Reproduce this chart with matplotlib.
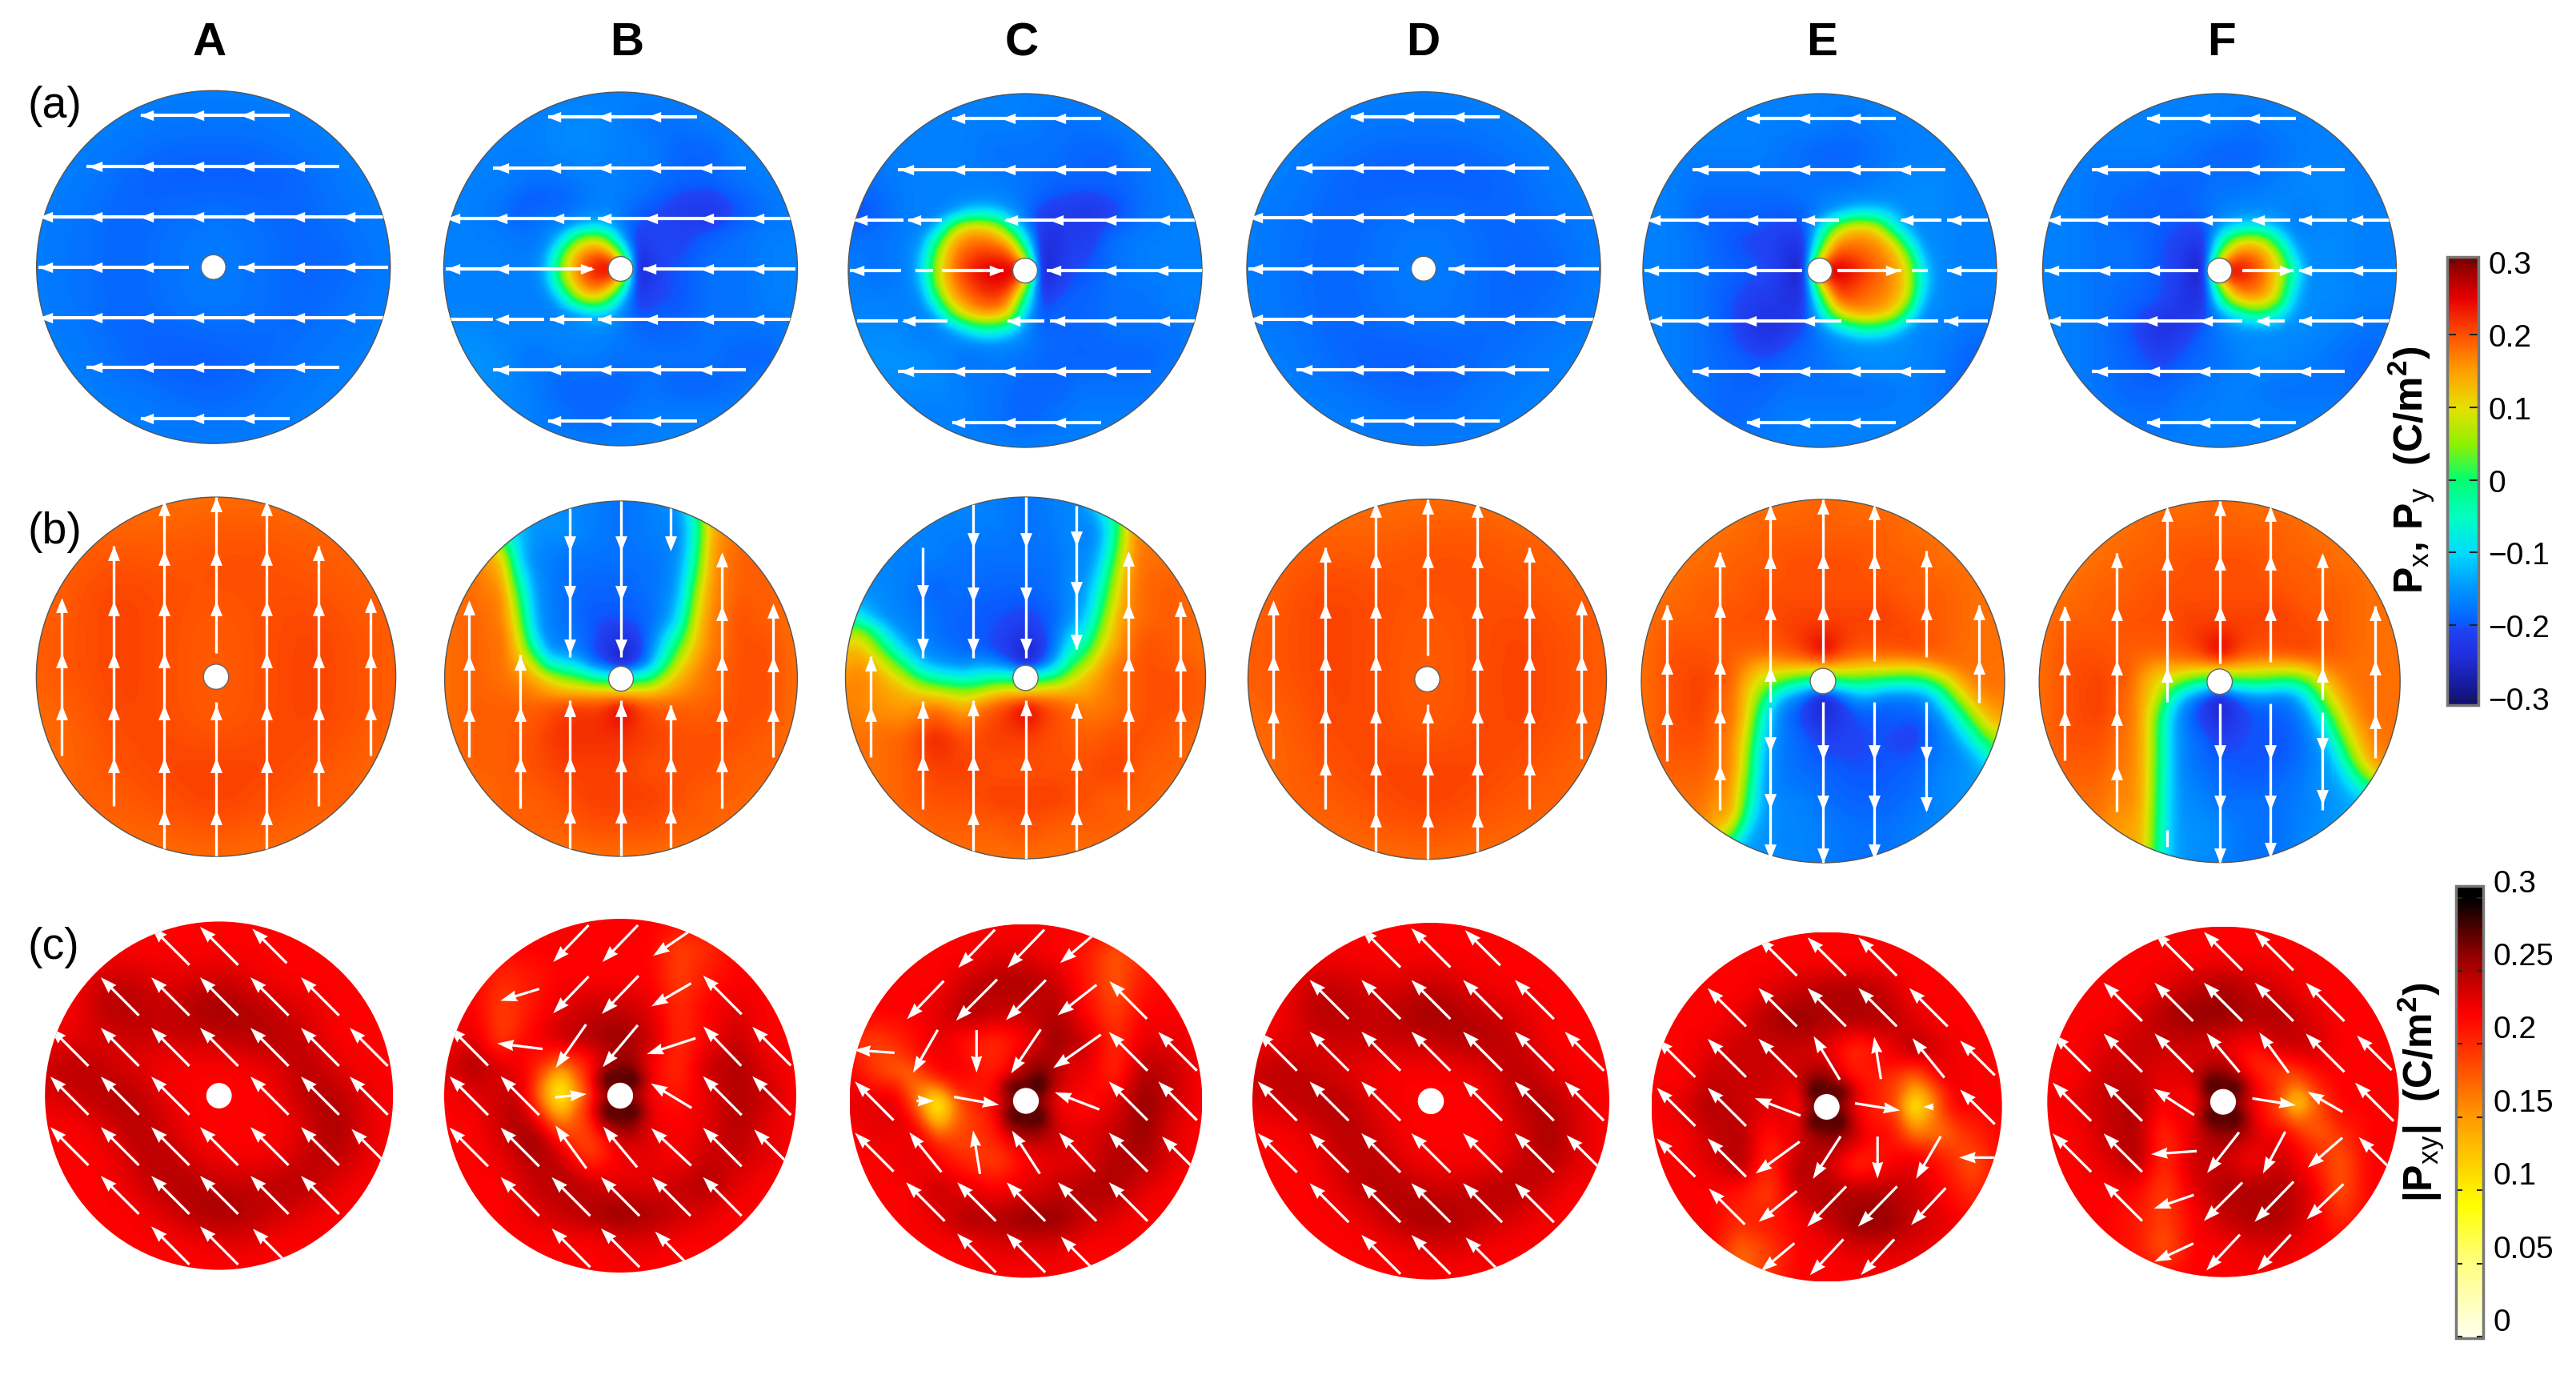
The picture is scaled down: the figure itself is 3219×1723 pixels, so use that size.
import numpy as np
import matplotlib
matplotlib.use("Agg")
import matplotlib.pyplot as plt
from matplotlib.patches import Circle
from matplotlib.colors import LinearSegmentedColormap, Normalize
from matplotlib.cm import ScalarMappable

plt.rcParams['font.family'] = ['Liberation Sans', 'DejaVu Sans']
plt.rcParams['mathtext.fontset'] = 'custom'
plt.rcParams['mathtext.rm'] = 'Liberation Sans'
plt.rcParams['mathtext.bf'] = 'Liberation Sans:bold'

W, H = 3219, 1724

# ---- data: fields in 0.01 C/m2, rows from top of disc to bottom ----
a_plain = [
    [-17,-17,-17,-17,-17,-17,-17,-17,-17],
    [-17,-17,-17,-18,-18,-18,-17,-17,-17],
    [-17,-17,-19,-20,-20,-20,-19,-17,-17],
    [-17,-18,-19,-18,-17,-18,-19,-18,-17],
    [-17,-18,-19,-18,-17,-18,-19,-19,-17],
    [-17,-18,-19,-18,-17,-18,-19,-18,-17],
    [-17,-17,-19,-20,-20,-19,-18,-17,-17],
    [-17,-17,-17,-18,-19,-18,-17,-17,-17],
    [-17,-17,-17,-17,-17,-17,-17,-17,-17]]
a_B = [
    [-17,-17,-17,-17,-17,-17,-17,-17,-17,-17,-17,-17,-17],
    [-17,-17,-17,-17,-16,-16,-17,-18,-18,-17,-17,-17,-17],
    [-17,-17,-17,-17,-16,-16,-17,-17,-19,-19,-17,-17,-17],
    [-17,-17,-17,-18,-18,-17,-17,-18,-19,-19,-18,-17,-17],
    [-17,-17,-18,-21,-20,-17,-17,-19,-22,-23,-20,-18,-17],
    [-17,-17,-17,-18,-17,-17,-17,-21,-21,-19,-18,-17,-17],
    [-17,-17,-17,-17,-17,-17,-17,-21,-20,-18,-18,-17,-17],
    [-17,-17,-17,-17,-17,-17,-17,-21,-20,-18,-18,-17,-17],
    [-16,-16,-17,-16,-16,-16,-17,-19,-19,-18,-18,-18,-17],
    [-15,-15,-16,-18,-17,-17,-18,-18,-18,-18,-19,-19,-17],
    [-15,-15,-16,-17,-19,-19,-19,-18,-19,-19,-18,-17,-17],
    [-16,-16,-16,-17,-18,-19,-18,-17,-17,-17,-17,-17,-17],
    [-17,-17,-17,-17,-17,-17,-17,-17,-17,-17,-17,-17,-17]]
a_C = [
    [-17,-17,-17,-17,-17,-17,-17,-17,-17,-17,-17,-17,-17],
    [-17,-17,-17,-17,-17,-17,-17,-18,-18,-17,-17,-17,-17],
    [-17,-17,-17,-17,-17,-18,-18,-18,-19,-19,-17,-17,-17],
    [-19,-18,-17,-17,-17,-17,-18,-19,-19,-19,-18,-17,-17],
    [-21,-19,-17,-17,-17,-17,-17,-19,-23,-21,-18,-17,-17],
    [-18,-18,-17,-17,-17,-17,-17,-21,-22,-18,-17,-17,-17],
    [-17,-18,-17,-17,-17,-17,-17,-21,-20,-18,-17,-17,-17],
    [-17,-17,-17,-17,-17,-17,-17,-20,-19,-18,-18,-17,-17],
    [-16,-16,-16,-17,-17,-17,-17,-18,-19,-18,-18,-18,-17],
    [-15,-15,-15,-16,-18,-17,-18,-19,-19,-19,-19,-18,-17],
    [-16,-16,-16,-16,-17,-18,-19,-19,-18,-18,-18,-17,-17],
    [-17,-17,-17,-17,-17,-18,-19,-18,-17,-17,-17,-17,-17],
    [-17,-17,-17,-17,-17,-17,-17,-17,-17,-17,-17,-17,-17]]
a_E = [
    [-17,-17,-17,-17,-17,-17,-17,-17,-17,-17,-17,-17,-17],
    [-17,-17,-17,-17,-17,-17,-17,-18,-17,-17,-17,-17,-17],
    [-17,-17,-17,-17,-17,-18,-19,-19,-18,-17,-17,-17,-17],
    [-17,-17,-18,-18,-18,-18,-18,-18,-17,-16,-16,-17,-17],
    [-17,-17,-19,-19,-19,-19,-17,-16,-16,-16,-16,-17,-17],
    [-17,-17,-18,-20,-21,-21,-17,-16,-16,-16,-16,-17,-17],
    [-17,-17,-18,-19,-20,-21,-17,-16,-16,-16,-16,-17,-17],
    [-17,-17,-18,-20,-22,-22,-17,-16,-16,-16,-16,-17,-17],
    [-17,-17,-18,-20,-24,-21,-17,-16,-16,-16,-16,-18,-18],
    [-17,-17,-18,-19,-20,-19,-18,-16,-15,-16,-17,-19,-19],
    [-17,-17,-18,-19,-19,-18,-18,-18,-18,-17,-18,-19,-18],
    [-17,-17,-18,-19,-18,-17,-17,-17,-17,-17,-17,-17,-17],
    [-17,-17,-17,-17,-17,-17,-17,-17,-17,-17,-17,-17,-17]]
a_F = [
    [-17,-17,-17,-17,-17,-17,-17,-17,-17,-17,-17,-17,-17],
    [-17,-17,-17,-17,-17,-17,-17,-18,-17,-17,-17,-17,-17],
    [-17,-17,-17,-17,-17,-18,-19,-19,-18,-17,-17,-17,-17],
    [-17,-17,-18,-18,-19,-19,-18,-18,-17,-16,-16,-17,-17],
    [-17,-17,-18,-19,-19,-19,-17,-16,-16,-17,-16,-17,-17],
    [-17,-17,-18,-18,-20,-21,-17,-16,-16,-16,-16,-17,-17],
    [-17,-17,-18,-18,-20,-21,-17,-16,-16,-16,-16,-17,-17],
    [-17,-17,-18,-19,-20,-22,-17,-16,-16,-16,-16,-17,-17],
    [-17,-17,-18,-20,-24,-21,-17,-16,-16,-16,-17,-18,-18],
    [-17,-17,-18,-19,-21,-19,-18,-16,-16,-17,-18,-19,-18],
    [-17,-17,-18,-19,-19,-18,-17,-17,-18,-18,-18,-19,-18],
    [-17,-17,-17,-18,-18,-17,-17,-17,-17,-17,-17,-17,-17],
    [-17,-17,-17,-17,-17,-17,-17,-17,-17,-17,-17,-17,-17]]

# finer grids (step 1/12 of the radius) for the domains next to the hole
a_B_core = [
    [-17,-17,-17,-17,-17,-16,-18,-20,-21,-21],
    [-17,-17,-17,-15,-12,-13,-17,-20,-21,-20],
    [-17,-17,-10,  5, 10,  6,-13,-22,-21,-20],
    [-17,-14,  3, 15, 19, 20,  6,-24,-22,-20],
    [-17,-12,  6, 17, 23, 26, 27,-27,-23,-20],
    [-17,-14,  3, 15, 20, 20,  8,-25,-22,-20],
    [-17,-17,-10,  6, 12,  7,-11,-22,-21,-20],
    [-17,-17,-17,-15,-11,-12,-16,-20,-20,-19],
    [-17,-17,-17,-17,-16,-16,-18,-19,-19,-19]]
a_C_core = [
    [-17,-17,-17,-16,-16,-16,-16,-17,-18,-20,-21,-21],
    [-17,-17,-17,-16,-12,-10,-11,-15,-18,-21,-22,-22],
    [-17,-17,-14,  3, 12, 12,  9, -3,-16,-22,-23,-22],
    [-17,-15, -1, 14, 17, 18, 17, 13, -6,-24,-24,-22],
    [-17,-12,  6, 16, 20, 22, 22, 21,  7,-25,-24,-21],
    [-17,-11,  8, 17, 22, 25, 26, 26, 27,-27,-24,-20],
    [-17,-13,  6, 16, 20, 23, 24, 23, 10,-25,-22,-20],
    [-17,-16, -2, 13, 17, 20, 21, 17, -3,-22,-20,-19],
    [-17,-17,-14,  2, 12, 15, 15, 10,-12,-20,-19,-19],
    [-17,-17,-17,-15,-10, -4, -4, -9,-16,-19,-19,-19],
    [-17,-17,-17,-16,-16,-16,-16,-16,-17,-18,-19,-19]]
a_E_core = [
    [-19,-18,-18,-17,-16,-16,-16,-16,-16,-16,-16,-16],
    [-20,-19,-19,-17,-15,-12,-10,-11,-13,-16,-16,-16],
    [-21,-21,-20,-11,  3, 11, 12,  8, -6,-15,-16,-16],
    [-22,-23,-23, -4, 15, 17, 17, 16, 10, -6,-16,-16],
    [-22,-24,-25,  8, 21, 21, 19, 17, 15,  6,-13,-16],
    [-21,-25,-27, 27, 27, 25, 22, 19, 16, 10, -9,-16],
    [-22,-24,-25,  9, 23, 22, 20, 18, 16, 11, -9,-16],
    [-23,-24,-23, -4, 18, 20, 18, 17, 15,  8,-13,-16],
    [-24,-23,-21,-12,  5, 13, 15, 14, 10, -4,-16,-17],
    [-25,-22,-20,-17,-13, -8, -4, -5,-10,-15,-17,-17],
    [-22,-20,-19,-18,-16,-16,-16,-16,-16,-16,-17,-18]]
a_F_core = [
    [-19,-19,-18,-17,-16,-16,-16,-16,-17,-17],
    [-20,-21,-20,-15,-11, -9,-10,-14,-17,-17],
    [-21,-22,-23, -6,  8, 12,  9, -3,-15,-16],
    [-21,-24,-25,  6, 19, 19, 16,  8,-10,-16],
    [-21,-25,-27, 27, 26, 23, 18, 11, -3,-16],
    [-22,-24,-25,  7, 20, 20, 17, 10, -8,-16],
    [-23,-24,-23, -5, 11, 15, 14,  6,-12,-16],
    [-24,-23,-21,-16,-10, -3, -2, -8,-15,-16],
    [-24,-21,-19,-17,-15,-15,-15,-15,-16,-16]]

b_plain = [
    [18,18,18,18,18,18,18,18,18],
    [18,19,19,19,20,20,19,19,18],
    [18,20,21,20,20,20,20,19,19],
    [19,20,21,20,19,20,21,20,19],
    [19,20,21,20,19,20,21,20,19],
    [18,19,21,20,19,20,21,20,19],
    [18,19,20,21,21,21,20,19,18],
    [18,19,19,20,21,20,19,19,18],
    [18,18,18,18,18,18,18,18,18]]
b_B = [
    [18,18,-8,-15,-16,-17,-18,-17,-15, 14,18,18,18],
    [18,18,-8,-15,-15,-17,-18,-17,-13, 12,18,18,18],
    [18,18, 4,-14,-18,-18,-18,-18,-12, 14,19,19,18],
    [18,18,14,-10,-18,-19,-19,-18, -9, 15,19,19,18],
    [18,19,16, -3,-17,-20,-20,-19, -5, 16,20,19,18],
    [18,19,17,  5,-14,-20,-26,-18,  2, 17,20,20,18],
    [18,19,18, 15,  8, -2, -5,  3, 14, 18,20,20,18],
    [18,19,19, 19, 21, 22, 26, 21, 19, 19,20,20,18],
    [18,19,19, 20, 22, 22, 22, 21, 20, 20,20,19,18],
    [18,19,19, 20, 21, 21, 21, 20, 20, 20,19,19,18],
    [18,18,19, 19, 20, 21, 21, 21, 20, 19,19,18,18],
    [18,18,19, 19, 19, 20, 20, 20, 19, 19,18,18,18],
    [18,18,18, 18, 18, 18, 18, 18, 18, 18,18,18,18]]
b_C = [
    [-16,-16,-16,-16,-16,-17,-18,-17,-15,  4,18,18,18],
    [-16,-16,-16,-17,-17,-17,-18,-17,-13,  4,18,18,18],
    [-16,-16,-17,-17,-18,-18,-18,-18,-12,  8,18,18,18],
    [-15,-16,-17,-19,-18,-19,-19,-18,-10, 14,19,19,18],
    [ -8,-12,-17,-19,-19,-20,-21,-19, -7, 16,19,19,18],
    [  8,  3,-12,-15,-18,-21,-25,-19,  0, 17,20,19,18],
    [ 14, 13,  8, -3, -8, -4, -4,  3, 13, 18,20,20,19],
    [ 17, 16, 15, 18, 14, 20, 26, 20, 17, 18,20,20,19],
    [ 18, 18, 19, 23, 20, 21, 21, 20, 19, 20,20,19,18],
    [ 18, 18, 19, 21, 21, 20, 20, 20, 20, 21,19,19,18],
    [ 18, 18, 19, 20, 20, 21, 21, 21, 20, 19,19,18,18],
    [ 18, 18, 18, 19, 19, 19, 20, 19, 19, 19,18,18,18],
    [ 18, 18, 18, 18, 18, 18, 18, 18, 18, 18,18,18,18]]
b_E = [
    [18,18,18,18,18,18,19,18,18,18,18,18,18],
    [18,18,18,18,19,19,19,19,19,18,18,18,18],
    [18,18,18,19,19,20,20,20,19,19,18,18,18],
    [18,18,19,19,20,20,20,20,20,19,19,18,18],
    [18,19,19,20,20,21,21,21,21,20,19,18,18],
    [18,20,20,19,19,21,25,21,20,21,19,18,18],
    [18,20,21,19, 8,-1, 0, 0,-1,-2, 6,15,17],
    [18,20,21,17,-8,-19,-25,-21,-20,-19,-10, 2,15],
    [18,20,20,16,-12,-18,-21,-21,-20,-22,-17,-8, 3],
    [18,19,19,15,-10,-18,-19,-20,-20,-19,-16,-14,-12],
    [18,18,18, 8,-14,-16,-18,-19,-19,-18,-16,-15,-15],
    [18,18,16, 0,-14,-16,-17,-18,-18,-17,-16,-16,-16],
    [18,18,14,-12,-15,-16,-17,-18,-18,-17,-16,-16,-16]]
b_F = [
    [18,18,18,18,18,18,19,18,18,18,18,18,18],
    [18,18,18,18,19,19,19,19,19,18,18,18,18],
    [18,18,18,19,19,20,20,20,19,19,18,18,18],
    [18,18,19,19,20,20,20,20,20,19,19,18,18],
    [18,19,19,20,20,21,21,21,21,20,19,18,18],
    [18,20,20,19,19,21,25,21,20,21,19,18,18],
    [18,20,21,19,10, 0, 0, 0, 1,10,17,19,18],
    [18,20,21,18, 2,-17,-25,-20,-19,-10,10,18,18],
    [18,20,20,17,-3,-17,-21,-20,-20,-18, 0,16,18],
    [18,19,19,16,-6,-17,-19,-20,-19,-18,-11, 0,12],
    [18,18,18,15,-6,-15,-18,-18,-18,-17,-15,-12,-10],
    [18,18,17,13,-6,-14,-16,-18,-18,-16,-14,-13,-13],
    [18,18,16,12,-10,-15,-17,-18,-18,-16,-15,-14,-14]]

b_B_core = [
    [-18,-19,-22,-24,-22,-18, -8],
    [-18,-20,-23,-26,-23,-17, -4],
    [-15,-18,-21,-27,-22,-14, -1],
    [  4, -2, -4, -4, -3, -1,  8],
    [ 17, 15, 15, 14, 14, 14, 16],
    [ 22, 21, 22, 26, 22, 20, 19],
    [ 22, 22, 22, 24, 21, 20, 20]]
b_C_core = [
    [-20,-20,-22,-24,-21,-17, -8],
    [-19,-21,-23,-26,-23,-17, -2],
    [-14,-17,-20,-27,-21,-13,  1],
    [ -4, -3, -3, -4, -2,  1,  8],
    [ 10, 13, 14, 14, 15, 15, 16],
    [ 20, 20, 22, 26, 22, 20, 19],
    [ 21, 21, 22, 24, 21, 20, 20]]
b_E_core = [
    [ 20, 21, 22, 24, 22, 20, 20],
    [ 19, 20, 22, 26, 22, 20, 19],
    [ 16, 15, 15, 16, 15, 14, 13],
    [  6,  0, -3, -3, -1,  1,  0],
    [-12,-15,-20,-27,-20,-15,-12],
    [-16,-19,-22,-26,-23,-20,-18],
    [-15,-19,-21,-24,-22,-20,-20]]
b_F_core = [
    [ 20, 21, 22, 24, 22, 20, 20],
    [ 19, 20, 22, 26, 22, 20, 19],
    [ 17, 15, 15, 16, 15, 14, 13],
    [  8,  1, -3, -3, -1,  0,  0],
    [-10,-15,-20,-27,-20,-17,-18],
    [-14,-19,-22,-26,-23,-20,-20],
    [-14,-19,-21,-24,-22,-20,-20]]

# finer grids along the domain walls of row (b)
b_B_left = [
    [18,  8,-14,-16,-17,-17],
    [18, 12,-10,-16,-17,-17],
    [18, 14, -5,-15,-17,-18],
    [18, 16,  0,-14,-17,-18],
    [18, 17,  4,-13,-17,-18],
    [18, 17,  7,-12,-17,-19],
    [18, 18, 10, -9,-17,-19],
    [18, 18, 12, -2,-15,-19],
    [18, 18, 14,  9, -6,-15],
    [18, 18, 17, 15, 10,  4]]
b_B_right = [
    [-17,-17,-16, -8, 12, 18],
    [-17,-17,-16, -6, 13, 18],
    [-17,-17,-16, -5, 14, 18],
    [-18,-17,-15, -3, 15, 18],
    [-18,-17,-14,  0, 15, 18],
    [-18,-17,-13,  4, 16, 18],
    [-18,-16,-11,  7, 16, 18],
    [-18,-16, -8,  9, 17, 18],
    [-17,-14, -2, 11, 17, 18],
    [-17,-10,  4, 13, 17, 18],
    [-12, -2, 10, 15, 18, 19],
    [  2, 10, 14, 17, 18, 19]]
b_C_right = [
    [-17,-17,-15, -6, 14, 18],
    [-17,-17,-14, -2, 15, 18],
    [-17,-17,-14,  0, 15, 18],
    [-17,-16,-12,  3, 16, 18],
    [-17,-16, -9,  7, 16, 18],
    [-17,-15, -5,  9, 17, 18],
    [-17,-14, -2, 11, 17, 18],
    [-17,-12,  2, 13, 17, 18],
    [-16, -8,  6, 14, 18, 19],
    [-13, -2, 10, 15, 18, 20],
    [ -4,  6, 14, 17, 19, 20],
    [  8, 13, 16, 18, 19, 20]]
b_C_left = [
    [-14,-15,-16,-17,-17,-18,-18,-18,-19,-20],
    [  2, -8,-14,-16,-17,-17,-18,-19,-19,-20],
    [ 12,  8, -2,-12,-16,-17,-18,-19,-19,-20],
    [ 16, 13,  6, -4,-12,-16,-17,-18,-19,-20],
    [ 17, 16, 12,  6, -3,-12,-15,-16,-17,-18],
    [ 18, 17, 15, 12,  8,  0, -4, -6, -7, -5],
    [ 18, 18, 17, 16, 15, 14, 13, 12, 10, 10]]
b_E_left = [
    [19,18,15,  6,-12,-18],
    [18,18,12, -4,-16,-19],
    [18,18,10, -7,-17,-19],
    [18,17, 8,-10,-17,-18],
    [18,17, 6,-12,-17,-18],
    [18,17, 5,-13,-17,-18],
    [18,16, 2,-14,-17,-18],
    [18,16, 0,-14,-16,-17],
    [18,14,-5,-15,-16,-17],
    [17, 6,-12,-15,-16,-17],
    [10,-10,-15,-15,-16,-17],
    [ 0,-14,-15,-15,-16,-17]]
b_E_right = [
    [ 20, 19, 19, 20, 19, 19, 18, 18, 18, 18],
    [ 15, 14, 13, 13, 15, 17, 18, 18, 18, 18],
    [  0, -2, -3, -3,  0,  7, 14, 17, 18, 18],
    [-16,-17,-17,-17,-14, -4,  8, 15, 17, 18],
    [-20,-20,-19,-19,-17,-12, -2,  9, 15, 17],
    [-20,-20,-20,-21,-19,-16, -9,  1, 11, 16],
    [-20,-20,-21,-21,-19,-17,-14, -7,  2, 12],
    [-20,-20,-20,-20,-18,-17,-16,-13, -6,  5],
    [-20,-20,-19,-19,-18,-16,-16,-15,-13, -5]]
b_F_left = [
    [18,16,10, -6,-16],
    [18,14, 2,-12,-18],
    [18,14, 0,-14,-18],
    [18,14, 0,-14,-18],
    [18,14, 0,-14,-18],
    [18,14,-1,-14,-18],
    [18,14,-1,-14,-17],
    [18,14,-2,-14,-17],
    [17,13,-2,-14,-17],
    [17,13,-3,-14,-16],
    [17,13,-3,-14,-16],
    [17,12,-5,-14,-16]]
b_F_right = [
    [ 21, 20, 21, 20, 19, 19, 18, 18, 18, 18],
    [ 15, 13, 13, 15, 17, 18, 18, 18, 18, 18],
    [  0, -2, -2,  3, 12, 16, 18, 18, 18, 18],
    [-18,-18,-15, -7,  6, 14, 17, 18, 18, 18],
    [-20,-19,-18,-13, -2, 10, 16, 18, 18, 18],
    [-20,-20,-19,-16, -8,  5, 14, 17, 18, 18],
    [-20,-20,-19,-17,-13, -1, 11, 16, 18, 18],
    [-20,-20,-19,-17,-15, -7,  7, 15, 17, 18],
    [-20,-19,-18,-17,-15,-12, -1, 10, 15, 17],
    [-19,-18,-18,-16,-15,-14, -9, -3,  6, 14],
    [-18,-18,-17,-16,-15,-14,-13,-11, -8, -5]]

c_plain = [
    [22,22,22,22,22,22,22,22,22,22,22,22,22],
    [22,22,22,22,22,22,22,22,22,22,22,22,22],
    [22,22,24,24,23,23,24,23,22,22,22,22,22],
    [22,22,25,25,24,25,26,25,24,23,22,22,22],
    [22,23,23,24,24,24,24,25,25,24,22,22,22],
    [24,25,24,23,22,22,22,22,23,25,23,22,22],
    [23,24,25,25,23,22,22,22,22,25,25,23,22],
    [22,22,23,25,24,22,22,22,22,23,26,23,22],
    [22,22,22,24,25,23,22,22,22,24,25,23,22],
    [22,22,22,23,25,25,24,24,25,25,23,22,22],
    [22,22,22,22,23,25,26,25,24,23,22,22,22],
    [22,22,22,22,22,22,23,23,22,22,22,22,22],
    [22,22,22,22,22,22,22,22,22,22,22,22,22]]
c_B = [
    [22,22,22,22,22,22,22,22,22,22,22,22,22],
    [22,22,22,22,22,22,22,22,19,20,22,22,22],
    [22,22,20,21,22,22,22,22,19,21,22,22,22],
    [22,22,19,21,23,24,24,23,20,22,23,22,22],
    [22,23,19,22,24,25,26,24,20,22,24,22,22],
    [23,25,23,21,20,22,25,24,20,24,25,23,22],
    [22,23,24,22,20,22,25,23,21,23,25,24,22],
    [22,22,24,25,22,22,25,25,22,23,25,23,22],
    [22,22,23,25,24,19,22,23,22,24,24,23,22],
    [22,22,22,24,25,24,23,23,24,25,23,22,22],
    [22,22,22,23,24,25,26,25,24,23,22,22,22],
    [22,22,22,22,22,22,23,23,22,22,22,22,22],
    [22,22,22,22,22,22,22,22,22,22,22,22,22]]
c_C = [
    [22,22,22,22,22,22,22,22,22,22,22,22,22],
    [22,22,22,22,22,23,23,22,21,18,20,22,22],
    [22,22,22,22,24,25,25,24,21,18,21,22,22],
    [22,22,22,23,25,24,24,25,22,19,22,22,22],
    [20,19,21,23,21,20,22,26,24,20,23,23,22],
    [22,19,19,22,21,21,24,26,23,20,25,24,22],
    [23,23,21,20,21,22,24,24,21,23,26,24,22],
    [22,23,22,21,20,22,24,24,23,24,26,23,22],
    [22,22,23,22,20,19,22,23,23,25,25,23,22],
    [22,22,22,24,23,22,23,24,25,25,23,22,22],
    [22,22,22,23,25,25,26,26,24,23,22,22,22],
    [22,22,22,22,22,23,23,23,22,22,22,22,22],
    [22,22,22,22,22,22,22,22,22,22,22,22,22]]
c_E = [
    [22,22,22,22,22,22,22,22,22,22,22,22,22],
    [22,22,22,22,22,22,22,22,22,22,22,22,22],
    [22,22,22,22,23,24,25,25,24,22,22,22,22],
    [22,22,22,23,25,26,25,25,25,23,22,22,22],
    [22,22,23,24,24,24,23,20,22,25,23,22,22],
    [22,22,24,24,24,23,24,21,22,21,23,22,22],
    [22,23,25,24,23,22,24,22,21,20,21,22,22],
    [22,22,24,25,21,24,25,24,21,20,20,20,22],
    [22,22,23,25,20,25,24,20,22,23,21,18,22],
    [22,22,22,21,19,24,25,25,25,24,22,20,22],
    [22,22,22,20,21,22,24,26,26,24,23,22,22],
    [22,22,22,17,19,22,22,23,23,23,22,22,22],
    [22,22,22,17,20,22,22,22,22,22,22,22,22]]
c_F = [
    [22,22,22,22,22,22,22,22,22,22,22,22,22],
    [22,22,22,22,22,22,22,22,22,22,22,22,22],
    [22,22,22,22,23,24,25,24,23,22,22,22,22],
    [22,22,22,23,25,26,26,25,25,23,22,22,22],
    [22,22,23,24,24,24,23,22,24,24,22,22,22],
    [22,22,24,24,23,23,24,20,21,22,22,22,22],
    [22,23,24,25,22,22,24,22,21,21,22,22,22],
    [22,22,24,25,20,24,25,24,22,20,20,22,22],
    [22,22,23,25,20,24,24,22,24,21,18,22,22],
    [22,22,22,22,19,23,25,25,25,23,18,22,22],
    [22,22,22,21,19,22,24,25,25,23,20,22,22],
    [22,22,22,21,18,22,22,23,23,22,22,22,22],
    [22,22,22,22,22,22,22,22,22,22,22,22,22]]

c_B_core = [
    [24,22,21,20,21,22,24,25,25,23,21],
    [23,21,19,16,19,21,25,27,26,22,20],
    [24,21,15,10,17,21,30,27,30,23,20],
    [25,20,14, 8,15,20,25,25,25,22,21],
    [26,22,17,12,18,21,30,27,30,23,21],
    [26,24,21,17,18,20,25,27,26,23,21],
    [25,26,24,21,19,19,21,24,24,23,22],
    [24,25,25,23,20,19,21,23,23,23,22]]
c_C_core = [
    [18,20,22,22,23,22,20,20,22,25,26,24,21],
    [17,17,20,22,22,22,21,21,22,26,27,25,21],
    [22,18,16,17,21,21,21,22,30,27,30,24,22],
    [24,20,14, 8,16,20,21,22,26,25,26,22,22],
    [24,22,17,10,16,19,20,22,30,27,30,23,22],
    [23,23,21,16,18,19,20,21,25,27,26,24,22],
    [22,23,23,20,18,18,19,20,22,24,24,24,23]]
c_E_core = [
    [23,24,24,24,21,20,21,22,21,20,22,22,22],
    [23,24,26,27,23,21,21,20,19,17,20,23,23],
    [23,22,30,27,30,23,21,20,18,13,16,20,23],
    [24,21,26,25,26,22,21,20,17, 8,14,20,23],
    [24,22,30,27,30,23,21,21,19,13,16,18,20],
    [22,23,25,27,26,24,22,22,20,17,17,17,18],
    [20,23,25,25,24,22,20,21,22,21,20,19,18]]
c_F_core = [
    [23,23,24,24,22,20,20,21,22,23,22,22],
    [23,24,26,27,24,21,20,19,19,21,22,22],
    [23,22,30,27,30,23,21,19,16,19,21,22],
    [24,21,26,25,26,22,21,18,10,16,20,22],
    [24,22,30,27,30,23,21,19,16,18,19,22],
    [22,23,25,27,26,24,22,22,20,18,18,20],
    [20,23,25,25,24,23,23,23,22,20,18,19]]

# ---- data: streamlines of row (a), one entry per row of disc ----
row_y = [.86, .57, .286, 0, -.286, -.57, -.86]
a_segs = [[(-.41,.43)], [(-.72,.71)], [(-.97,.96)], [(-.99,-.14),(.14,.99)],
          [(-.97,.96)], [(-.72,.71)], [(-.41,.43)]]
a_left = [[-.38,-.095,.19], [-.67,-.38,-.095,.19,.476],
          [-.95,-.67,-.38,-.095,.19,.476,.76], [-.95,-.67,-.38,.19,.476,.76],
          [-.95,-.67,-.38,-.095,.19,.476,.76], [-.67,-.38,-.095,.19,.476],
          [-.38,-.095,.19]]
a_right = [[], [], [], [], [], [], []]

a_B_segs = a_segs[:2] + [[(-.97,-.17),(-.13,.97)], [(-.99,-.16),(.13,.99)],
                         [(-.97,-.72),(-.69,-.43),(-.4,-.16),(-.13,.97)]] + a_segs[5:]
a_B_left = a_left[:2] + [[-.95,-.68,-.36,-.095,.17,.487,.77], [-.95,-.67,.16,.487,.77],
                         [-.67,-.36,-.095,.17,.487,.77]] + a_left[5:]
a_B_right = [[], [], [], [-.19], [], [], []]

a_C_segs = a_segs[:2] + [[(-.97,-.69),(-.66,-.47),(-.11,.96)],
                         [(-.99,-.70),(-.62,-.52),(-.47,-.12),(.12,1)],
                         [(-.95,-.72),(-.69,-.44),(-.10,.11),(.14,.96)]] + a_segs[5:]
a_C_left = a_left[:2] + [[-.93,-.63,-.08,.175,.476,.78], [-.95,.165,.476,.768],
                         [-.66,-.07,.184,.476,.78]] + a_left[5:]
a_C_right = [[], [], [], [-.165], [], [], []]

a_E_segs = a_segs[:2] + [[(-.96,-.13),(-.10,.11),(.46,.69),(.72,.95)],
                         [(-.99,-.10),(.10,.46),(.52,.61),(.72,1)],
                         [(-.95,.12),(.49,.67),(.70,.95)]] + a_segs[5:]
a_E_left = a_left[:2] + [[-.94,-.67,-.39,-.07,.49,.76], [-.95,-.67,-.40,.76],
                         [-.93,-.67,-.40,-.07,.74]] + a_left[5:]
a_E_right = [[], [], [], [.41], [], [], []]

a_F_segs = a_segs[:2] + [[(-.96,.13),(.19,.40),(.45,.72),(.75,.96)],
                         [(-.99,-.12),(.13,.42),(.45,1)],
                         [(-.96,.13),(.22,.37),(.45,.96)]] + a_segs[5:]
a_F_left = a_left[:2] + [[-.94,-.67,-.38,-.08,.215,.48,.77], [-.95,-.66,-.38,.48,.77],
                         [-.94,-.67,-.39,-.08,.24,.48,.77]] + a_left[5:]
a_F_right = [[], [], [], [.38], [], [], []]

# ---- data: streamlines of row (b), one entry per column of disc ----
col_x = [-.86, -.57, -.29, 0, .28, .57, .86]
b_segs = [[(-.44,.42)], [(-.72,.73)], [(-.97,.97)], [(-1,-.14),(.13,1)],
          [(-.97,.97)], [(-.72,.73)], [(-.44,.42)]]
b_up = [[.40,.09,-.2], [.69,.38,.09,-.2,-.49], [.94,.66,.38,.09,-.2,-.49,-.78],
        [.96,.66,.38,-.2,-.49,-.78], [.94,.66,.38,.09,-.2,-.49,-.78],
        [.69,.38,.09,-.2,-.49], [.40,.09,-.2]]
b_down = [[], [], [], [], [], [], []]

b_B_segs = [[(-.44,.42)], [(-.73,.135)], [(-.96,-.12),(.12,.96)], [(-1,-.12),(.12,1)],
            [(-.95,-.15),(.76,.96)], [(-.73,.7)], [(-.44,.41)]]
b_B_up = [[.40,.09,-.2], [.09,-.2,-.48], [-.17,-.48,-.77], [-.17,-.48,-.77],
          [-.19,-.48,-.77], [.67,.37,.09,-.2,-.48], [.385,.08,-.2]]
b_B_down = [[], [], [.76,.48,.18], [.76,.48,.18], [.76], [], []]

b_C_segs = [[(-.44,.12)], [(-.725,-.13),(.11,.72)], [(-.96,-.125),(.11,.96)], [(-1,-.125),(.11,1)],
            [(-.95,-.14),(.16,.95)], [(-.73,.69)], [(-.44,.42)]]
b_C_up = [[.08,-.2], [-.18,-.47], [-.17,-.47,-.77], [-.17,-.47,-.77], [-.18,-.47,-.77],
          [.66,.37,.08,-.2,-.48], [.38,.08,-.2]]
b_C_down = [[], [.475,.175], [.76,.46,.175], [.76,.46,.175], [.77,.49,.2], [], []]

b_E_segs = [[(-.44,.42)], [(-.71,.71)], [(-.115,.96),(-.956,-.146)], [(.1,1),(-1,-.115)],
            [(.11,.96),(-.956,-.115)], [(.13,.72),(-.71,-.115)], [(-.12,.42)]]
b_E_up = [[.38,.08,-.2], [.67,.39,.08,-.19,-.5], [.93,.66,.38,.04], [.96,.66,.38],
          [.93,.66,.38], [.67,.38], [.38,.08]]
b_E_down = [[], [], [-.35,-.66,-.94], [-.39,-.67,-.96], [-.39,-.67,-.94], [-.4,-.68], []]

b_F_segs = [[(-.435,.415)], [(-.72,.71)], [(-.11,.96),(-.915,-.82)], [(.1,1),(-1,-.12)],
            [(.11,.96),(-.96,-.12)], [(-.1,.7),(-.71,-.17)], [(-.42,.42)]]
b_F_up = [[.38,.08,-.2], [.67,.38,.08,-.2,-.5], [.93,.66,.38,.04], [.96,.66,.38],
          [.93,.66,.38], [.67,.38,.04], [.38,.08,-.22]]
b_F_down = [[], [], [], [-.39,-.67,-.96], [-.39,-.67,-.93], [-.35,-.64], []]

# ---- data: arrows of row (c), angle (deg) and length on the 7x7 arrow grid ----
arrow_x = [-.86, -.57, -.28, 0, .29, .58, .86]
arrow_y = [.86, .57, .28, 0, -.29, -.57, -.86]
n = None
c_ang = [[n,n,135,135,135,n,n],
         [n,135,135,135,135,135,n],
         [135,135,135,135,135,135,135],
         [135,135,135,n,135,135,135],
         [135,135,135,135,135,135,135],
         [n,135,135,135,135,135,n],
         [n,n,135,135,135,n,n]]
c_len = [[n,n,.31,.31,.28,n,n],
         [n,.31,.31,.31,.31,.31,n],
         [.31,.31,.31,.31,.31,.31,.31],
         [.31,.31,.31,n,.31,.31,.31],
         [.31,.31,.31,.31,.31,.31,.28],
         [n,.31,.31,.31,.31,.31,n],
         [n,n,.31,.31,.27,n,n]]
c_B_ang = [[n,n,226,226,214,n,n],
           [n,197,226,226,210,135,n],
           [135,173,235,230,198,134,135],
           [135,135,6,n,149,135,135],
           [135,135,126,130,137,135,135],
           [n,135,135,135,135,135,n],
           [n,n,135,135,135,n,n]]
c_B_len = [[n,n,.29,.29,.25,n,n],
           [n,.23,.29,.30,.26,.31,n],
           [.31,.26,.30,.31,.29,.31,.31],
           [.31,.31,.18,n,.27,.31,.31],
           [.31,.31,.30,.30,.31,.31,.28],
           [n,.31,.31,.31,.31,.31,n],
           [n,n,.31,.31,.26,n,n]]
c_C_ang = [[n,n,226,226,220,n,n],
           [n,226,225,225,218,135,n],
           [176,240,270,236,215,135,135],
           [135,0,-10,n,159,135,135],
           [135,129,99,123,133,135,135],
           [n,135,135,135,135,135,n],
           [n,n,135,135,135,n,n]]
c_C_len = [[n,n,.30,.30,.25,n,n],
           [n,.30,.33,.32,.28,.30,n],
           [.23,.28,.24,.30,.33,.31,.31],
           [.31,.10,.26,n,.27,.31,.31],
           [.31,.29,.25,.29,.30,.31,.25],
           [n,.31,.31,.31,.31,.31,n],
           [n,n,.31,.31,.26,n,n]]
c_E_ang = [[n,n,135,135,135,n,n],
           [n,135,135,135,135,135,n],
           [135,135,135,121,99,129,135],
           [135,135,159,n,-9,180,135],
           [135,135,216,237,270,240,180],
           [n,135,219,226,226,227,n],
           [n,n,220,227,227,n,n]]
c_E_len = [[n,n,.31,.31,.31,n,n],
           [n,.31,.31,.31,.31,.31,n],
           [.31,.31,.31,.29,.245,.29,.28],
           [.31,.31,.28,n,.26,.06,.28],
           [.31,.31,.31,.29,.24,.28,.21],
           [n,.29,.28,.32,.32,.29,n],
           [n,n,.25,.28,.28,n,n]]
c_F_ang = [[n,n,135,135,135,n,n],
           [n,135,135,135,135,135,n],
           [135,135,135,130,126,135,135],
           [135,135,147,n,-9,150,135],
           [135,135,184,232,242,221,135],
           [n,135,199,225,226,224,n],
           [n,n,205,227,227,n,n]]
c_F_len = [[n,n,.31,.31,.31,n,n],
           [n,.31,.31,.31,.31,.31,n],
           [.30,.31,.31,.29,.285,.31,.28],
           [.31,.31,.275,n,.25,.23,.31],
           [.31,.31,.26,.295,.27,.26,.25],
           [n,.31,.24,.31,.32,.29,n],
           [n,n,.245,.28,.28,n,n]]

columns = ['A', 'B', 'C', 'D', 'E', 'F']
column_px = [262, 783, 1277, 1778, 2277, 2776]
rows = ['(a)', '(b)', '(c)']
rows_py = [133, 665, 1184]

# disc layout in image pixels: centre x, centre y, half width, half height
discs_a = [(266.7,334.7,221,220.5), (775.5,337,221,221), (1281,339,221,221),
           (1779,336.7,221,221), (2274,339,221,221), (2773.5,339,221,221)]
discs_b = [(270,846.6,224.6,224.5), (776,849,220.4,222), (1281.5,848,225,226),
           (1783.5,849.6,224,225), (2278,852,227,227), (2773.7,852.7,225.5,226)]
discs_c = [(273.7,1370,217.5,217.6), (775,1370,220,221), (1282,1376.5,220.4,221),
           (1788,1376.8,223,222.8), (2282.7,1384,219,218.4), (2778,1377.7,219.7,219)]

# where the fine grids sit: left node x, top node y (in disc radii)
fine_a = [[], [(a_B_core,-.5,.333)], [(a_C_core,-.667,.417)], [], [(a_E_core,-.25,.417)], [(a_F_core,-.25,.333)]]
fine_b = [[],
          [(b_B_left,-.75,.75), (b_B_right,.167,.917), (b_B_core,-.25,.25)],
          [(b_C_left,-1,.417), (b_C_right,.25,.917), (b_C_core,-.25,.25)],
          [],
          [(b_E_left,-.583,-.083), (b_E_right,.25,.167), (b_E_core,-.25,.25)],
          [(b_F_left,-.5,-.083), (b_F_right,.25,.167), (b_F_core,-.25,.25)]]
fine_c = [[], [(c_B_core,-.583,.25)], [(c_C_core,-.75,.25)], [], [(c_E_core,-.25,.25)], [(c_F_core,-.25,.25)]]

# colour maps
top_vmin, top_vmax = -.31, .307
top_stops = [(-.31,'#10106e'), (-.3,'#14147f'), (-.24,'#2030e0'), (-.205,'#1f45f5'), (-.2,'#0a58ff'),
             (-.17,'#0080ff'), (-.15,'#0094ff'), (-.1,'#00dcff'), (-.05,'#00ffc0'), (0,'#00ff70'),
             (.05,'#90f000'), (.1,'#e6e000'), (.15,'#ffa000'), (.2,'#ff5000'),
             (.25,'#e80000'), (.307,'#780000')]
cmap_top = LinearSegmentedColormap.from_list('top', [((v-top_vmin)/(top_vmax-top_vmin), c) for v, c in top_stops])
norm_top = Normalize(top_vmin, top_vmax)

low_vmin, low_vmax = -.001, .308
low_stops = [(-.001,'#ffffee'), (.05,'#ffff80'), (.09,'#ffff00'), (.15,'#ff9a00'),
             (.2,'#ff2a00'), (.22,'#ff0000'), (.25,'#b00000'), (.26,'#960000'), (.3,'#000000'), (.308,'#000000')]
cmap_low = LinearSegmentedColormap.from_list('low', [((v-low_vmin)/(low_vmax-low_vmin), c) for v, c in low_stops])
norm_low = Normalize(low_vmin, low_vmax)

fig = plt.figure(figsize=(W/100, H/100), dpi=100, facecolor='white')


def merge_grids(field, fine):
    # put the coarse 13x13 grid on the 25x25 node spacing, then lay the fine grids in
    if not fine:
        return np.array(field, dtype=float)
    coarse = np.array(field, dtype=float)
    m = np.zeros((25, 25))
    m[::2, ::2] = coarse
    m[1::2, ::2] = (coarse[:-1, :] + coarse[1:, :])/2
    m[:, 1::2] = (m[:, :-2:2] + m[:, 2::2])/2
    for grid, x0, y1 in fine:
        g = np.array(grid, dtype=float)
        i = int(round((1-y1)*12))
        j = int(round((x0+1)*12))
        part = m[i:i+g.shape[0], j:j+g.shape[1]]
        edge = np.ones(g.shape, dtype=bool)
        edge[1:-1, 1:-1] = False
        part[~edge] = g[~edge]
        part[edge] = (part[edge] + g[edge])/2
    return m


def disc_axes(box, field, fine, cmap, norm, edge):
    cx, cy, rx, ry = box
    ax = fig.add_axes([(cx-rx)/W, 1-(cy+ry)/H, 2*rx/W, 2*ry/H])
    values = merge_grids(field, fine)/100
    h = 2/(values.shape[0]-1)
    im = ax.imshow(values, extent=(-1-h/2, 1+h/2, -1-h/2, 1+h/2), cmap=cmap, norm=norm,
                   aspect='auto', interpolation='bicubic', interpolation_stage='data', zorder=1)
    im.set_clip_path(Circle((0, 0), 1, transform=ax.transData))
    ax.set_xlim(-1, 1)
    ax.set_ylim(-1, 1)
    ax.axis('off')
    if edge:
        ax.add_patch(Circle((0, 0), 1, fc='none', ec='#555555', lw=1, clip_on=False, zorder=2))
    return ax


def hole(ax, edge):
    ax.add_patch(Circle((0, 0), .07, fc='white', ec='#666666' if edge else 'white', lw=1, zorder=6))


def clip(ax, artist):
    artist.set_clip_path(Circle((0, 0), 1, transform=ax.transData))


head_l = [(-1, 0), (1, -.76), (1, .76)]
head_r = [(1, 0), (-1, -.76), (-1, .76)]
head_u = [(0, 1), (-.8, -1), (.8, -1)]
head_d = [(0, -1), (-.8, 1), (.8, 1)]


def row_a(ax, segs, left, right):
    for y, sg, lh, rh in zip(row_y, segs, left, right):
        for x0, x1 in sg:
            ln, = ax.plot([x0, x1], [y, y], color='white', lw=3.0, solid_capstyle='butt', zorder=4)
            clip(ax, ln)
        ax.plot(lh, [y]*len(lh), ls='none', marker=head_l, ms=12.5, mew=0, color='white', zorder=5)
        ax.plot(rh, [y]*len(rh), ls='none', marker=head_r, ms=12.5, mew=0, color='white', zorder=5)


def row_b(ax, segs, up, down):
    for x, sg, uh, dh in zip(col_x, segs, up, down):
        for y0, y1 in sg:
            ln, = ax.plot([x, x], [y0, y1], color='white', lw=2.4, solid_capstyle='butt', zorder=4)
            clip(ax, ln)
        ax.plot([x]*len(uh), uh, ls='none', marker=head_u, ms=13.5, mew=0, color='white', zorder=5)
        ax.plot([x]*len(dh), dh, ls='none', marker=head_d, ms=13.5, mew=0, color='white', zorder=5)


def row_c(ax, ang, length):
    a = np.array(ang, dtype=float)
    s = np.array(length, dtype=float)
    xx, yy = np.meshgrid(arrow_x, arrow_y)
    keep = ~np.isnan(a)
    u = s[keep]*np.cos(np.radians(a[keep]))
    v = s[keep]*np.sin(np.radians(a[keep]))
    q = ax.quiver(xx[keep], yy[keep], u, v, angles='xy', scale_units='xy', scale=1, pivot='mid',
                  color='white', units='dots', width=3.2, headwidth=4.4, headlength=6.5,
                  headaxislength=6, zorder=4)
    clip(ax, q)


fields_a = [a_plain, a_B, a_C, a_plain, a_E, a_F]
lines_a = [(a_segs, a_left, a_right), (a_B_segs, a_B_left, a_B_right), (a_C_segs, a_C_left, a_C_right),
           (a_segs, a_left, a_right), (a_E_segs, a_E_left, a_E_right), (a_F_segs, a_F_left, a_F_right)]
fields_b = [b_plain, b_B, b_C, b_plain, b_E, b_F]
lines_b = [(b_segs, b_up, b_down), (b_B_segs, b_B_up, b_B_down), (b_C_segs, b_C_up, b_C_down),
           (b_segs, b_up, b_down), (b_E_segs, b_E_up, b_E_down), (b_F_segs, b_F_up, b_F_down)]
fields_c = [c_plain, c_B, c_C, c_plain, c_E, c_F]
arrows_c = [(c_ang, c_len), (c_B_ang, c_B_len), (c_C_ang, c_C_len),
            (c_ang, c_len), (c_E_ang, c_E_len), (c_F_ang, c_F_len)]

for i in range(6):
    ax = disc_axes(discs_a[i], fields_a[i], fine_a[i], cmap_top, norm_top, True)
    row_a(ax, *lines_a[i])
    hole(ax, True)
    ax = disc_axes(discs_b[i], fields_b[i], fine_b[i], cmap_top, norm_top, True)
    row_b(ax, *lines_b[i])
    hole(ax, True)
    ax = disc_axes(discs_c[i], fields_c[i], fine_c[i], cmap_low, norm_low, False)
    row_c(ax, *arrows_c[i])
    hole(ax, False)

# headers
for name, x in zip(columns, column_px):
    fig.text(x/W, 1-54/H, name, fontsize=42, ha='center', va='center', fontweight='bold')
for name, y in zip(rows, rows_py):
    fig.text(35/W, 1-y/H, name, fontsize=40, ha='left', va='center')

# colour bars
cax = fig.add_axes([3058/W, 1-882/H, 39/W, 560/H])
cb = fig.colorbar(ScalarMappable(norm=norm_top, cmap=cmap_top), cax=cax)
cb.set_ticks([-.3, -.2, -.1, 0, .1, .2, .3])
cb.set_ticklabels(['\u22120.3', '\u22120.2', '\u22120.1', '0', '0.1', '0.2', '0.3'])
cb.outline.set_edgecolor('#777777')
cb.outline.set_linewidth(2.5)
cax.yaxis.set_ticks_position('both')
cax.tick_params(direction='in', length=8, width=1.5, color='#222222', labelsize=28, labelright=True,
                labelleft=False, pad=9)
fig.text(3013/W, 1-587/H, r'$\mathbf{P}_{\mathrm{x}}$, $\mathbf{P}_{\mathrm{y}}$  $\mathbf{(C/m^2)}$', fontsize=36,
         rotation=90, ha='center', va='center', fontweight='bold')

cax2 = fig.add_axes([3069/W, 1-1673/H, 34/W, 565/H])
cb2 = fig.colorbar(ScalarMappable(norm=norm_low, cmap=cmap_low), cax=cax2)
cb2.set_ticks([0, .05, .1, .15, .2, .25, .3])
cb2.set_ticklabels(['0', '0.05', '0.1', '0.15', '0.2', '0.25', '0.3'])
cb2.outline.set_edgecolor('#777777')
cb2.outline.set_linewidth(2.5)
cax2.yaxis.set_ticks_position('both')
cax2.tick_params(direction='in', length=6, width=1.5, color='#222222', labelsize=28, labelright=True,
                 labelleft=False, pad=9)
for t in cax2.get_yticklabels():
    t.set_va('bottom')
fig.text(3025/W, 1-1365/H, r'$\mathbf{|P}_{\mathrm{xy}}\mathbf{|}$  $\mathbf{(C/m^2)}$', fontsize=36,
         rotation=90, ha='center', va='center', fontweight='bold')

fig.savefig('out.png', dpi=100, facecolor='white')
